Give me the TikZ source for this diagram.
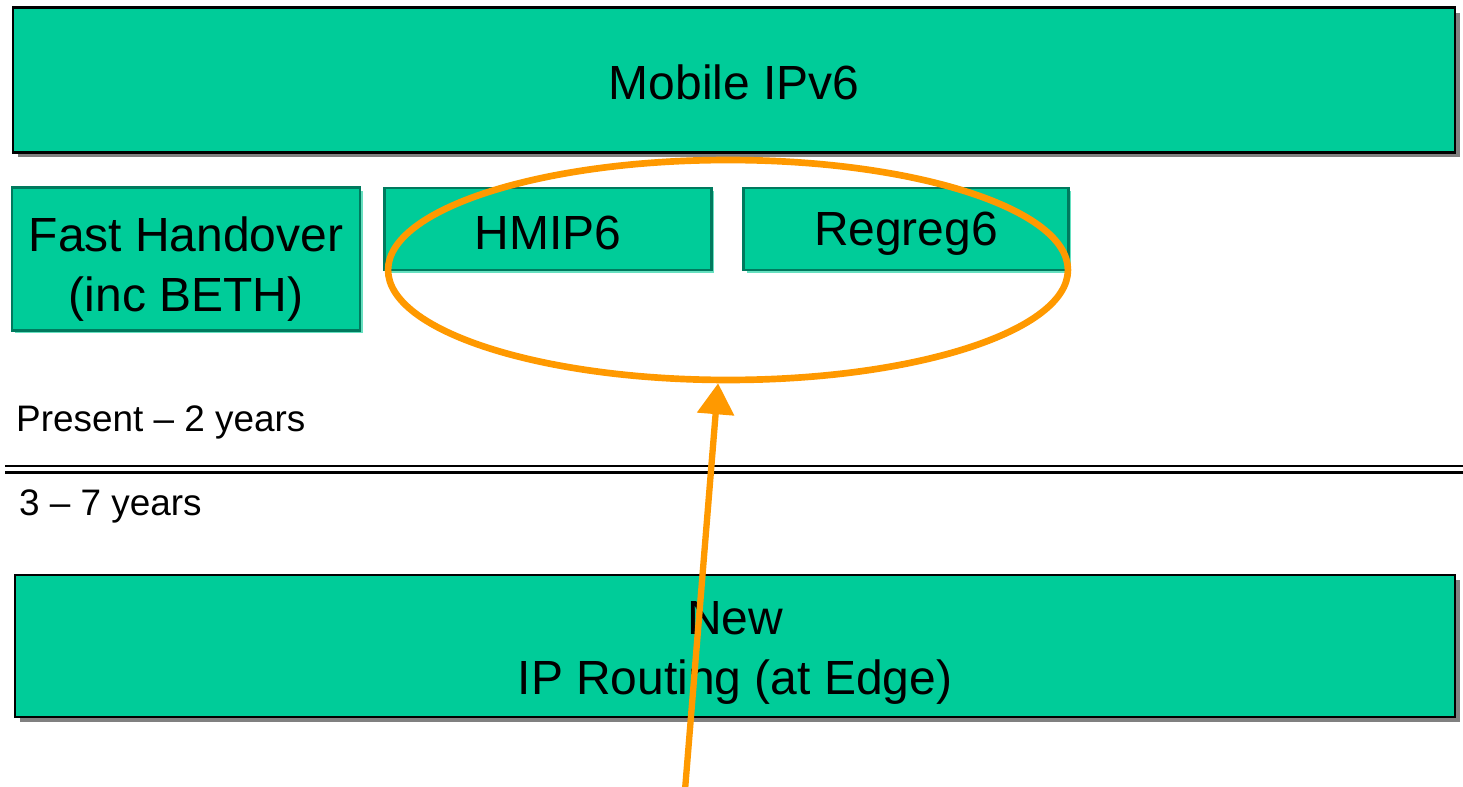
\documentclass[tikz,border=0pt]{standalone}
\usepackage{fontspec}
\setmainfont{Liberation Sans}
\usetikzlibrary{arrows.meta,shadows,shapes.geometric}
\definecolor{boxgreen}{HTML}{00CC99}
\definecolor{edgegreen}{HTML}{007A5E}
\definecolor{litegreen}{HTML}{66E0C0}
\definecolor{shadegray}{HTML}{808080}
\definecolor{ringorange}{HTML}{FF9900}
\begin{document}
\begin{tikzpicture}[x=0.02cm, y=-0.02cm,
    boxtext/.style={align=center, font=\fontsize{27.3}{34}\selectfont},
    bigbox/.style={draw=black, line width=1.2pt, fill=boxgreen,
        general shadow={fill=shadegray, shadow xshift=0.1cm, shadow yshift=-0.1cm}},
    smallbox/.style={draw=edgegreen, line width=1.2pt, fill=boxgreen,
        general shadow={fill=litegreen, shadow xshift=0.06cm, shadow yshift=-0.06cm}},
    period/.style={anchor=west, font=\fontsize{21}{25}\selectfont}]
    \useasboundingbox (0,0) rectangle (1463,787);
    % Long-term boxes
    \node[bigbox, minimum width=28.84cm, minimum height=2.9cm,
        label={[boxtext, yshift=-0.05cm]center:Mobile IPv6}] (mip) at (734,80) {};
    \node[bigbox, minimum width=28.8cm, minimum height=2.84cm,
        label={[boxtext, yshift=-0.14cm]center:New\\IP Routing (at Edge)}] (edge) at (735,646) {};
    % Near-term proposals
    \node[smallbox, minimum width=6.96cm, minimum height=2.86cm,
        label={[boxtext, yshift=-0.2cm]center:Fast Handover\\(inc BETH)}] (fast) at (186,259) {};
    \node[smallbox, minimum width=6.54cm, minimum height=1.64cm,
        label={[boxtext, yshift=-0.07cm]center:HMIP6}] (hmip) at (548,229) {};
    \node[smallbox, minimum width=6.5cm, minimum height=1.64cm,
        label={[boxtext, yshift=-0.1cm]center:Regreg6}] (regreg) at (906,229) {};
    % Time periods
    \node[period] (near) at (10,422) {Present -- 2 years};
    \node[period] (far) at (13,506) {3 -- 7 years};
    \coordinate (divl) at (5,469);
    \coordinate (divr) at (1463,469);
    \draw[black, line width=1.6pt] ([yshift=0.06cm]divl) -- ([yshift=0.06cm]divr);
    \draw[black, line width=2pt] ([yshift=-0.07cm]divl) -- ([yshift=-0.07cm]divr);
    % Highlight
    \node[ellipse, draw=ringorange, line width=3.8pt, minimum width=13.6cm, minimum height=4.4cm] (ring) at (728,270) {};
    \coordinate (tail) at (685,790);
    \draw[ringorange, line width=3.6pt, -{Triangle[length=0.62cm, width=0.72cm]}] (tail) -- (ring.265);
\end{tikzpicture}
\end{document}
